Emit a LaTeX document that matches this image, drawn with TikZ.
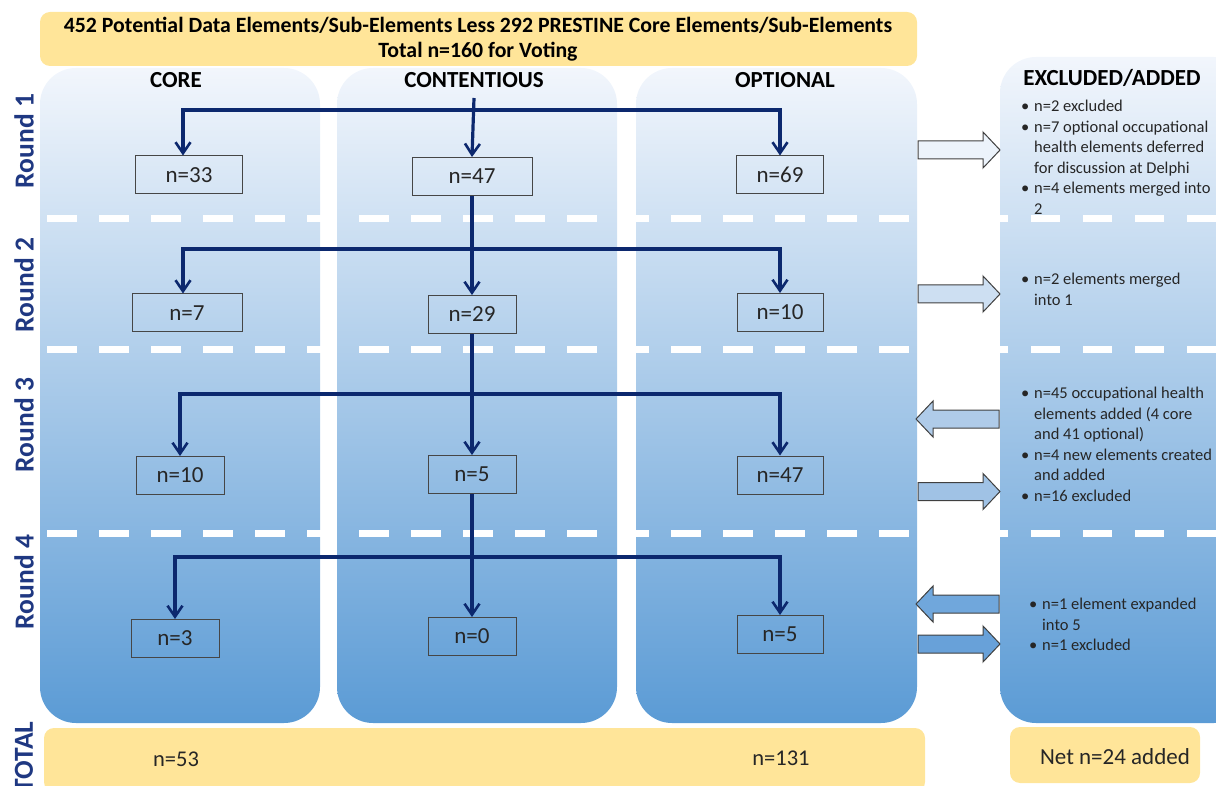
\documentclass[tikz,border=0pt]{standalone}
\usepackage{fontspec}
\setmainfont{Carlito}
\usetikzlibrary{arrows.meta}
\definecolor{gold}{RGB}{255,229,153}
\definecolor{blueT}{RGB}{242,246,252}
\definecolor{blueB}{RGB}{91,155,213}
\definecolor{navy}{RGB}{12,40,110}
\definecolor{navyL}{RGB}{31,56,130}
\definecolor{boxgray}{RGB}{70,70,70}
\definecolor{txt}{RGB}{38,38,38}
\definecolor{aone}{RGB}{236,243,251}
\definecolor{atwo}{RGB}{205,223,242}
\definecolor{athree}{RGB}{175,203,233}
\definecolor{athreeb}{RGB}{160,194,229}
\definecolor{afour}{RGB}{112,167,220}
\definecolor{afourb}{RGB}{104,161,217}
\newcommand\bitem{\makebox[13pt][l]{\textbullet}}
\newcommand\bcont{\hspace*{13pt}}
\newcommand\rblk[4]{\draw[barrow, fill=#4] (#1,#3-9) -- (#2-17,#3-9) -- (#2-17,#3-18) -- (#2,#3) -- (#2-17,#3+18) -- (#2-17,#3+9) -- (#1,#3+9) -- cycle;}
\newcommand\lblk[4]{\draw[barrow, fill=#4] (#2,#3-9) -- (#1+17,#3-9) -- (#1+17,#3-18) -- (#1,#3) -- (#1+17,#3+18) -- (#1+17,#3+9) -- (#2,#3+9) -- cycle;}
\begin{document}
\begin{tikzpicture}[x=1pt,y=-1pt,
  panel/.style={rounded corners=36pt, top color=blueT, bottom color=blueB, draw=none},
  goldbar/.style={fill=gold, rounded corners=10pt, draw=none},
  head/.style={font=\fontsize{23}{26}\selectfont\bfseries, text=black},
  rlabel/.style={rotate=90, font=\fontsize{27.5}{30}\selectfont\bfseries, text=navyL},
  nbox/.style={draw=boxgray, line width=1pt, minimum height=38pt, font=\fontsize{23}{25}\selectfont, inner sep=0, text=txt},
  flow/.style={draw=navy, line width=3.2pt, -{Straight Barb[length=11pt,width=15pt,line width=2.6pt]}},
  sepline/.style={white, line width=7pt},
  barrow/.style={draw=black!75, line width=1pt},
  note/.style={anchor=north west, inner sep=0, align=left, font=\fontsize{16.5}{20.5}\selectfont, text=txt},
  total/.style={font=\fontsize{22.5}{25}\selectfont, text=txt}
]
\useasboundingbox (0,0) rectangle (1216,786);
% gold bars
\path[goldbar] (40,12) rectangle (917,66);
\path[goldbar] (44,728) rectangle (925,792);
\path[goldbar] (1010,727) rectangle (1200,783);
% panels
\path[panel] (40,68) rectangle (320,723);
\path[panel] (337,68) rectangle (617,723);
\path[panel] (636,68) rectangle (917,723);
\path[panel] (1000,57) rectangle (1250,723);
% separators
\foreach \yy in {219,350,533}{
  \draw[sepline, dash pattern=on 30pt off 22pt] (47,\yy) -- (917,\yy);
  \draw[sepline, dash pattern=on 29pt off 23pt] (979,\yy) -- (1216,\yy);
}
% title and headers
\node[font=\fontsize{21.8}{25}\selectfont\bfseries, align=center] (title) at (478,39.5) {452 Potential Data Elements/Sub-Elements Less 292 PRESTINE Core Elements/Sub-Elements\\Total n=160 for Voting};
\node[head] (hcore) at (176,80) {CORE};
\node[head] (hcont) at (474,80) {CONTENTIOUS};
\node[head] (hopt) at (785,80) {OPTIONAL};
\node[head] (hexc) at (1112,78) {EXCLUDED/ADDED};
% round labels
\node[rlabel] (r1) at (24,141) {Round 1};
\node[rlabel] (r2) at (24,285) {Round 2};
\node[rlabel] (r3) at (24,425) {Round 3};
\node[rlabel] (r4) at (24,582) {Round 4};
\node[rlabel] (rt) at (24,757) {TOTAL};
% boxes
\node[nbox, minimum width=107pt] (b33) at (189,175) {n=33};
\node[nbox, minimum width=120pt] (b47a) at (472,176.5) {n=47};
\node[nbox, minimum width=87pt] (b69) at (780,175) {n=69};
\node[nbox, minimum width=110pt] (b7) at (187,313) {n=7};
\node[nbox, minimum width=88pt] (b29) at (472,314.5) {n=29};
\node[nbox, minimum width=86pt] (b10a) at (780,312.5) {n=10};
\node[nbox, minimum width=88pt] (b10b) at (180,475.5) {n=10};
\node[nbox, minimum width=88pt] (b5a) at (472,474.5) {n=5};
\node[nbox, minimum width=86pt] (b47b) at (780,475) {n=47};
\node[nbox, minimum width=88pt] (b3) at (175,638.5) {n=3};
\node[nbox, minimum width=88pt] (b0) at (472,636.5) {n=0};
\node[nbox, minimum width=86pt] (b5b) at (780,634.5) {n=5};
% connectors
\coordinate (s1) at (474,98);
\coordinate (j1) at (473,110);
\coordinate (j2) at (471.5,249);
\coordinate (j3) at (472,394);
\coordinate (j4) at (472,557);
\draw[flow] (s1) -- (b47a.north);
\draw[flow] (j1) -| ([xshift=-6pt]b33.north);
\draw[flow] (j1) -| (b69.north);
\draw[flow] (b47a.south) -- (b29.north);
\draw[flow] (j2) -| ([xshift=-4pt]b7.north);
\draw[flow] (j2) -| (b10a.north);
\draw[flow] (b29.south) -- (b5a.north);
\draw[flow] (j3) -| (b10b.north);
\draw[flow] (j3) -| (b47b.north);
\draw[flow] (b5a.south) -- (b0.north);
\draw[flow] (j4) -| (b3.north);
\draw[flow] (j4) -| (b5b.north);
% block arrows
\rblk{918}{1000}{150}{aone}
\rblk{918}{1000}{294}{atwo}
\lblk{916}{999}{419}{athree}
\rblk{918}{1000}{491.5}{athreeb}
\lblk{916}{999}{604}{afour}
\rblk{918}{1000}{644}{afourb}
% notes
\node[note] (n1) at (1021,100) {\bitem n=2 excluded\\
\bitem n=7 optional occupational\\
\bcont health elements deferred\\
\bcont for discussion at Delphi\\
\bitem n=4 elements merged into\\
\bcont 2};
\node[note] (n2) at (1021,273) {\bitem n=2 elements merged\\
\bcont into 1};
\node[note] (n3) at (1021,387) {\bitem n=45 occupational health\\
\bcont elements added (4 core\\
\bcont and 41 optional)\\
\bitem n=4 new elements created\\
\bcont and added\\
\bitem n=16 excluded};
\node[note] (n4) at (1029,598) {\bitem n=1 element expanded\\
\bcont into 5\\
\bitem n=1 excluded};
% totals
\node[total] (t53) at (176,759) {n=53};
\node[total] (t131) at (781,758) {n=131};
\node[font=\fontsize{23}{25}\selectfont, text=txt] (tnet) at (1115,757) {Net n=24 added};
\end{tikzpicture}
\end{document}
